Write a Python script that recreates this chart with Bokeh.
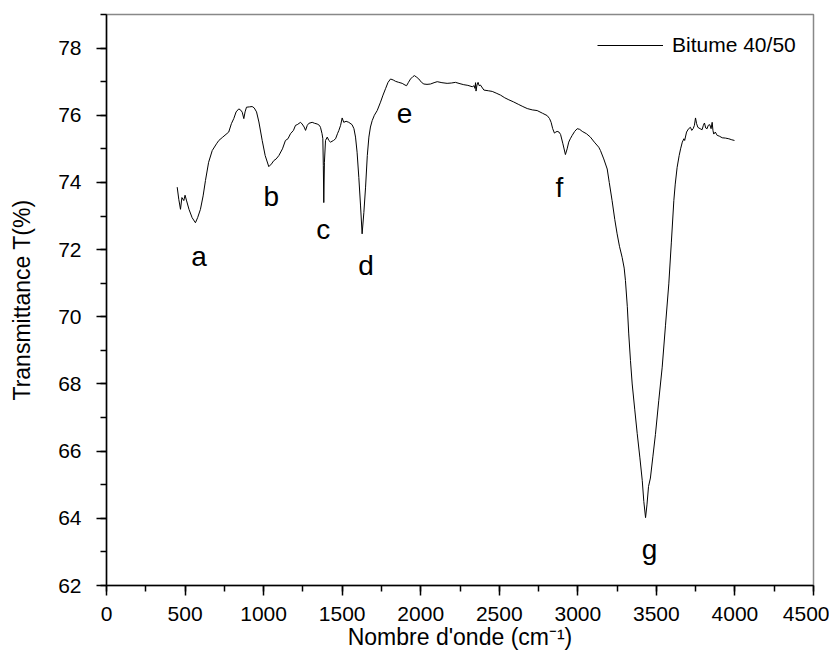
from bokeh.plotting import figure
from bokeh.models import ColumnDataSource, Range1d, SingleIntervalTicker, Legend, LegendItem
from bokeh.core.properties import value
from bokeh.embed import file_html
from bokeh.resources import INLINE

# ---- data ----
wavenumber = [
    450, 460, 471, 480, 492, 500, 510, 525, 545, 566, 580, 598, 615, 630, 650, 673, 700, 715, 740, 778,
    795, 810, 825, 842, 855, 864, 874, 882, 891, 910, 927, 940, 955, 970, 991, 1010, 1033, 1050, 1065, 1080,
    1097, 1120, 1139, 1155, 1171, 1190, 1203, 1214, 1235, 1245, 1258, 1267, 1278, 1288, 1309, 1325, 1341, 1355, 1362, 1372,
    1377, 1380, 1383, 1387, 1394, 1405, 1415, 1426, 1445, 1458, 1470, 1479, 1490, 1500, 1510, 1525, 1542, 1563, 1575, 1585,
    1595, 1606, 1617, 1627, 1638, 1649, 1660, 1670, 1680, 1691, 1705, 1723, 1744, 1760, 1776, 1792, 1808, 1825, 1840, 1860,
    1882, 1900, 1910, 1922, 1935, 1950, 1960, 1975, 1988, 2005, 2020, 2040, 2062, 2085, 2105, 2135, 2168, 2195, 2221, 2250,
    2274, 2300, 2328, 2340, 2345, 2349, 2352, 2358, 2365, 2372, 2380, 2402, 2430, 2455, 2480, 2508, 2535, 2561, 2590, 2624,
    2650, 2678, 2710, 2741, 2775, 2805, 2820, 2830, 2840, 2851, 2860, 2868, 2880, 2890, 2905, 2921, 2932, 2942, 2952, 2964,
    2980, 2996, 3012, 3028, 3055, 3080, 3105, 3133, 3144, 3165, 3187, 3200, 3218, 3235, 3250, 3265, 3282, 3295, 3303, 3315,
    3324, 3335, 3346, 3362, 3378, 3395, 3410, 3420, 3431, 3440, 3450, 3462, 3478, 3494, 3515, 3537, 3558, 3579, 3595, 3611,
    3620, 3632, 3645, 3654, 3665, 3675, 3680, 3692, 3705, 3717, 3725, 3734, 3742, 3749, 3756, 3764, 3778, 3791, 3799, 3806,
    3814, 3823, 3830, 3840, 3848, 3855, 3860, 3865, 3875, 3887, 3900, 3919, 3940, 3961, 3980, 3997,
]
transmittance = [
    73.86, 73.50, 73.20, 73.55, 73.46, 73.62, 73.45, 73.20, 72.95, 72.80, 72.95, 73.20, 73.60, 74.06, 74.60, 74.95, 75.15, 75.25, 75.35, 75.50,
    75.75, 75.90, 76.10, 76.19, 76.15, 76.09, 75.90, 76.10, 76.24, 76.25, 76.26, 76.22, 76.10, 75.80, 75.25, 74.80, 74.47, 74.55, 74.65, 74.70,
    74.80, 75.00, 75.25, 75.30, 75.45, 75.55, 75.70, 75.72, 75.79, 75.74, 75.65, 75.55, 75.70, 75.76, 75.79, 75.76, 75.74, 75.70, 75.64, 75.45,
    75.30, 74.50, 73.40, 74.60, 75.25, 75.35, 75.25, 75.20, 75.25, 75.30, 75.45, 75.55, 75.70, 75.92, 75.79, 75.82, 75.79, 75.72, 75.60, 75.35,
    74.90, 74.15, 73.30, 72.47, 73.10, 73.86, 74.80, 75.35, 75.65, 75.84, 76.00, 76.14, 76.39, 76.60, 76.79, 76.98, 77.08, 77.05, 77.01, 76.98,
    76.95, 76.90, 76.88, 76.98, 77.08, 77.15, 77.18, 77.13, 77.08, 76.98, 76.93, 76.92, 76.93, 76.97, 77.00, 76.97, 76.95, 76.96, 76.98, 76.94,
    76.91, 76.89, 76.85, 76.88, 76.80, 76.97, 76.72, 76.90, 76.98, 76.88, 76.90, 76.75, 76.73, 76.71, 76.66, 76.60, 76.52, 76.46, 76.40, 76.32,
    76.26, 76.20, 76.16, 76.14, 76.06, 75.99, 75.90, 75.79, 75.60, 75.47, 75.50, 75.52, 75.50, 75.43, 75.15, 74.83, 75.00, 75.20, 75.30, 75.40,
    75.52, 75.60, 75.58, 75.52, 75.45, 75.35, 75.20, 75.05, 74.95, 74.70, 74.40, 74.00, 73.46, 72.90, 72.47, 72.10, 71.77, 71.45, 71.08, 70.30,
    69.49, 68.70, 68.00, 67.25, 66.52, 65.80, 65.13, 64.50, 64.02, 64.40, 64.95, 65.20, 65.85, 66.50, 67.50, 68.50, 69.75, 70.98, 72.20, 73.46,
    73.95, 74.45, 74.80, 75.00, 75.20, 75.30, 75.25, 75.50, 75.60, 75.64, 75.55, 75.60, 75.70, 75.92, 75.75, 75.64, 75.60, 75.57, 75.70, 75.77,
    75.62, 75.60, 75.70, 75.72, 75.60, 75.79, 75.55, 75.44, 75.50, 75.40, 75.38, 75.33, 75.32, 75.30, 75.27, 75.25,
]
series_name = "Bitume 40/50"

peak_labels = ["a", "b", "c", "d", "e", "f", "g"]
peak_label_x = [589, 1049, 1379, 1652, 1897, 2882, 3457]
peak_label_y = [71.79, 73.59, 72.59, 71.53, 76.04, 73.86, 63.07]

x_title = "Nombre d'onde (cm\u207b\u00b9)"
y_title = "Transmittance T(%)"

FONT = "Liberation Sans"

p = figure(width=829, height=657, output_backend="svg", toolbar_location=None,
           x_range=Range1d(0, 4500), y_range=Range1d(62, 79),
           x_axis_label=x_title, y_axis_label=y_title)
p.min_border_left = 106
p.min_border_right = 16
p.min_border_top = 14
p.min_border_bottom = 72
p.grid.visible = False
p.outline_line_color = "#888888"
p.outline_line_width = 1.5
p.background_fill_color = "white"
p.border_fill_color = "white"

p.xaxis.ticker = SingleIntervalTicker(interval=500, num_minor_ticks=2)
p.yaxis.ticker = SingleIntervalTicker(interval=2, num_minor_ticks=2)
for ax in p.axis:
    ax.axis_line_color = "black"
    ax.axis_line_width = 1.5
    ax.major_tick_line_color = "black"
    ax.major_tick_line_width = 1.5
    ax.major_tick_in = 0
    ax.major_tick_out = 10
    ax.minor_tick_line_color = "black"
    ax.minor_tick_line_width = 1.5
    ax.minor_tick_in = 0
    ax.minor_tick_out = 6
    ax.major_label_text_font = FONT
    ax.major_label_text_font_size = "21px"
    ax.major_label_text_color = "black"
    ax.axis_label_text_font = FONT
    ax.axis_label_text_font_size = "23px"
    ax.axis_label_text_font_style = "normal"
    ax.axis_label_text_color = "black"
p.xaxis.major_label_standoff = 11
p.xaxis.axis_label_standoff = 0
p.yaxis.major_label_standoff = 15
p.yaxis.axis_label_standoff = 20

src = ColumnDataSource(dict(x=wavenumber, y=transmittance))
r = p.line("x", "y", source=src, line_color="black", line_width=1)

lab_src = ColumnDataSource(dict(x=peak_label_x, y=peak_label_y, t=peak_labels))
p.text(x="x", y="y", text="t", source=lab_src, text_font=value(FONT),
       text_font_size=value("28px"), text_align="center", text_baseline="alphabetic",
       text_color="black")

legend = Legend(items=[LegendItem(label=series_name, renderers=[r])], location=(491, 528))
legend.border_line_color = None
legend.background_fill_alpha = 0
legend.padding = 0
legend.margin = 0
legend.glyph_width = 66
legend.glyph_height = 20
legend.label_standoff = 9
legend.label_text_font = FONT
legend.label_text_font_size = "21px"
legend.label_text_color = "black"
p.add_layout(legend)

open("out.html", "w").write(file_html(p, INLINE))
